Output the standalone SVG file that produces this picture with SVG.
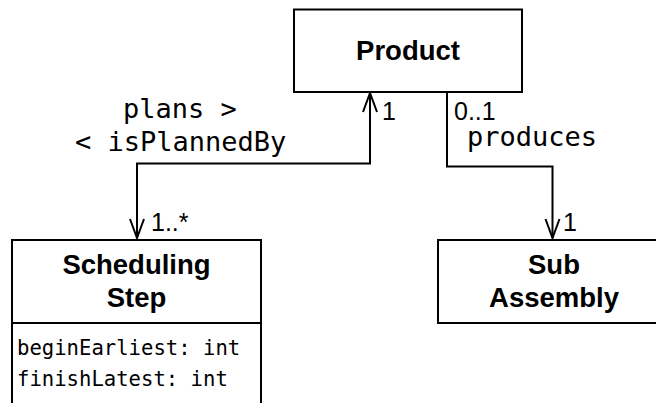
<svg xmlns="http://www.w3.org/2000/svg" width="656" height="403" viewBox="0 0 656 403">
  <style>
    .box { fill: #ffffff; stroke: #000000; stroke-width: 2; }
    .sep { stroke: #000000; stroke-width: 2; }
    .title { font-family: "Liberation Sans", Arial, Helvetica, sans-serif; font-weight: bold; font-size: 27.5px; fill: #000000; text-anchor: middle; }
    .attr { font-family: "DejaVu Sans Mono", monospace; font-size: 20.6px; fill: #000000; }
    .assoc { font-family: "DejaVu Sans Mono", monospace; font-size: 27px; fill: #000000; }
    .mult { font-family: "Liberation Sans", Arial, Helvetica, sans-serif; font-size: 25px; fill: #000000; }
    .edge { fill: none; stroke: #000000; stroke-width: 2; }
  </style>
  <defs>
    <marker id="open-arrow" markerUnits="userSpaceOnUse" viewBox="-21 -9 23 18" markerWidth="23" markerHeight="18" refX="0" refY="0" orient="auto-start-reverse">
      <path d="M-19,-7 L0,0 L-19,7" fill="none" stroke="#000000" stroke-width="2"/>
    </marker>
  </defs>

  <rect width="656" height="403" fill="#ffffff"/>

  <g id="connectors">
    <!-- plans / isPlannedBy : navigable both ways -->
    <path class="edge" d="M137,238 L137,163.5 L370,163.5 L370,93" marker-start="url(#open-arrow)" marker-end="url(#open-arrow)"/>
    <!-- produces -->
    <path class="edge" d="M447,92 L447,166.5 L552.5,166.5 L552.5,238" marker-end="url(#open-arrow)"/>
    <text class="assoc" x="123" y="118">plans &gt;</text>
    <text class="assoc" x="75" y="151">&lt; isPlannedBy</text>
    <text class="assoc" x="467" y="146">produces</text>
    <text class="mult" x="382" y="120">1</text>
    <text class="mult" x="454" y="120">0..1</text>
    <text class="mult" x="151" y="231">1..*</text>
    <text class="mult" x="563" y="231">1</text>
  </g>

  <g id="product">
    <rect class="box" x="294" y="9.5" width="228" height="82.5"/>
    <text class="title" x="408" y="60">Product</text>
  </g>

  <g id="scheduling-step">
    <rect class="box" x="12" y="240" width="249" height="200"/>
    <line class="sep" x1="12" y1="323" x2="261" y2="323"/>
    <text class="title" x="136.5" y="274">Scheduling</text>
    <text class="title" x="136.5" y="307">Step</text>
    <text class="attr" x="17" y="355">beginEarliest: int</text>
    <text class="attr" x="17" y="386">finishLatest: int</text>
  </g>

  <g id="sub-assembly">
    <rect class="box" x="438" y="240" width="232" height="83"/>
    <text class="title" x="554" y="274">Sub</text>
    <text class="title" x="554" y="307">Assembly</text>
  </g>
</svg>
